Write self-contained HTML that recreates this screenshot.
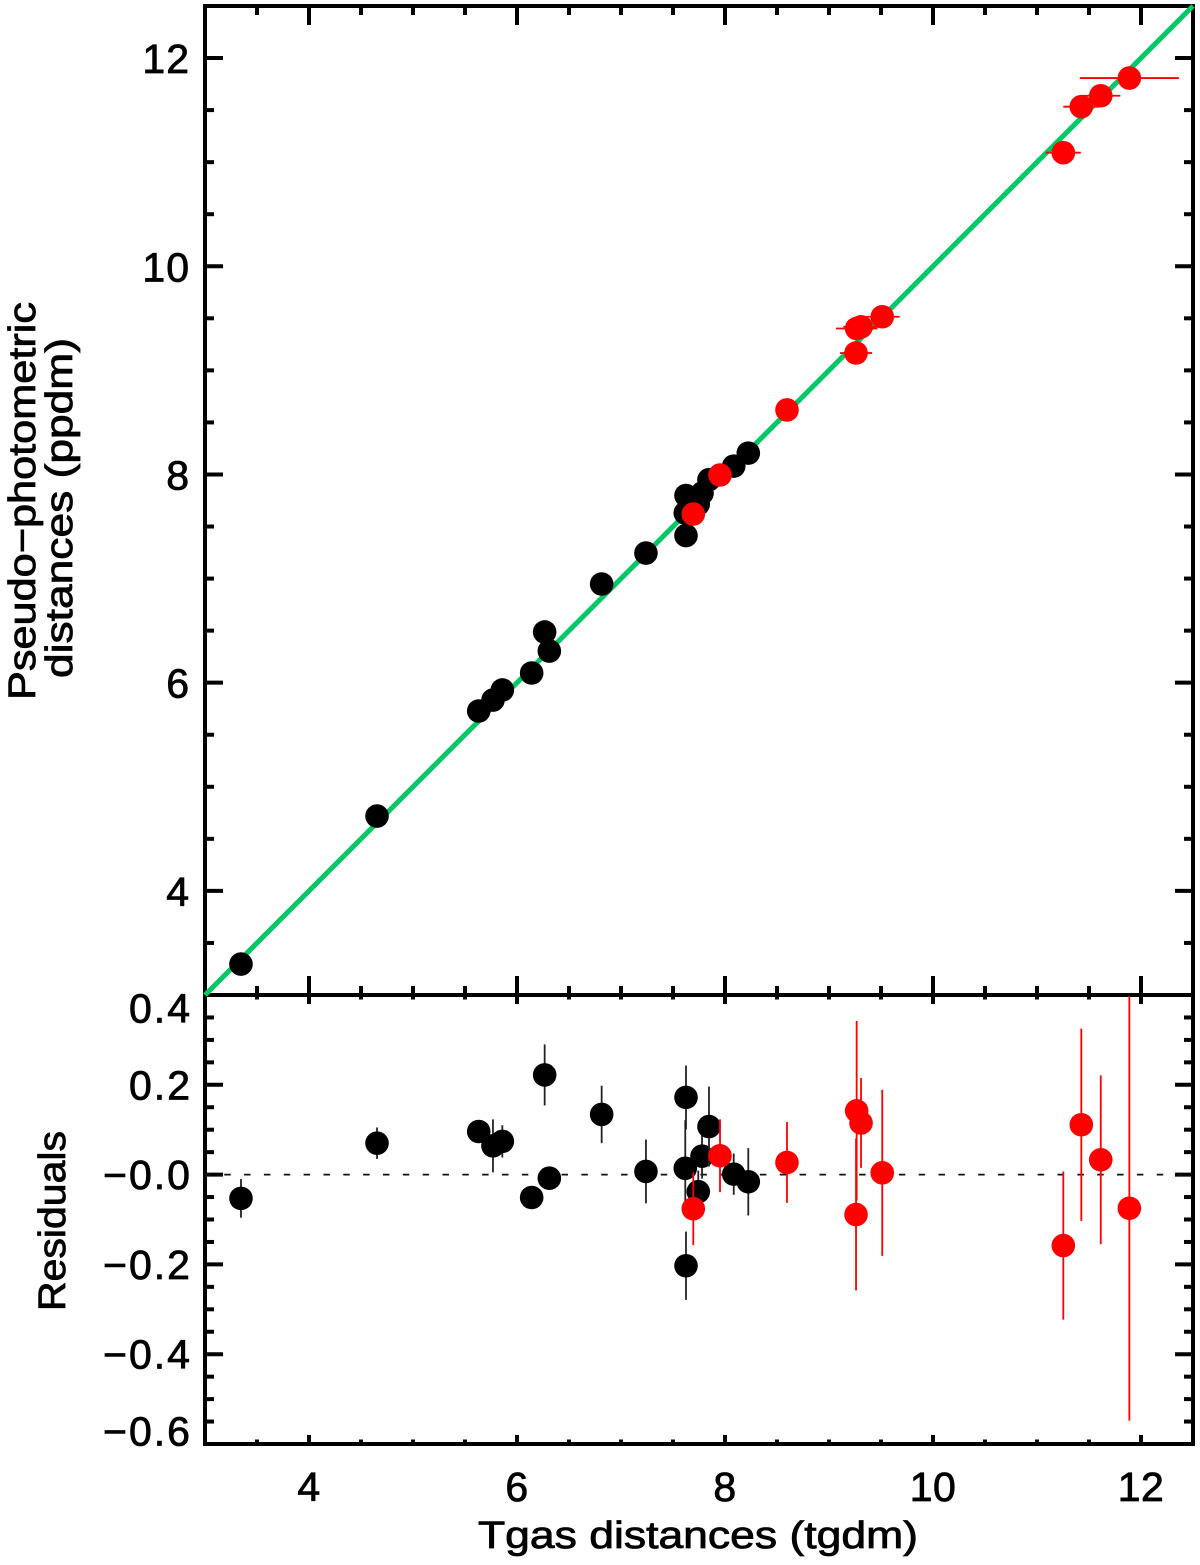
<!DOCTYPE html>
<html lang="en">
<head>
<meta charset="utf-8">
<title>Tgas vs pseudo-photometric distances</title>
<style>
html,body{margin:0;padding:0;background:#fff;}
svg{display:block;}
text{font-family:"Liberation Sans",sans-serif;fill:#000;stroke:#000;stroke-width:0.8px;}
</style>
</head>
<body>
<svg id="chart" xmlns="http://www.w3.org/2000/svg" width="1200" height="1565" viewBox="0 0 1200 1565">
  <rect width="1200" height="1565" fill="#fff"/>
  <g id="axes-layer"></g>
  <g id="marks-layer"></g>
  <text x="478" y="1548" font-size="38" textLength="440" lengthAdjust="spacingAndGlyphs">Tgas distances (tgdm)</text>
  <text transform="translate(35,700) rotate(-90)" font-size="38" textLength="398" lengthAdjust="spacingAndGlyphs">Pseudo−photometric</text>
  <text transform="translate(72,678) rotate(-90)" font-size="38" textLength="340" lengthAdjust="spacingAndGlyphs">distances (ppdm)</text>
  <text transform="translate(65,1311) rotate(-90)" font-size="38" textLength="180" lengthAdjust="spacingAndGlyphs">Residuals</text>
</svg>
<script>
// ---- data ----
const blackTgdm = [3.346,4.654,5.632,5.769,5.859,6.141,6.266,6.311,6.814,7.240,7.625,7.618,7.625,7.743,7.779,7.846,8.084,8.224];
const blackPpdm = [3.297,4.719,5.728,5.833,5.930,6.093,6.487,6.304,6.948,7.245,7.413,7.630,7.798,7.715,7.820,7.950,8.080,8.205];
const blackResidual = [-0.053,0.070,0.096,0.064,0.074,-0.051,0.222,-0.008,0.134,0.007,-0.203,0.014,0.172,-0.038,0.041,0.107,0.001,-0.016];
const blackResidualErr = [0.043,0.035,0.020,0.059,0.036,0.020,0.068,0.020,0.064,0.071,0.076,0.107,0.071,0.047,0.050,0.089,0.046,0.075];
const redTgdm = [7.695,7.952,8.596,9.260,9.266,9.308,9.512,11.253,11.426,11.613,11.888];
const redPpdm = [7.620,7.995,8.620,9.167,9.402,9.418,9.515,11.091,11.533,11.638,11.808];
const redResidual = [-0.076,0.042,0.027,-0.089,0.142,0.115,0.004,-0.158,0.111,0.033,-0.075];
const redResidualErr = [0.081,0.081,0.090,0.169,0.200,0.100,0.185,0.165,0.214,0.188,0.473];
const redTgdmErr = [0.080,0.080,0.090,0.155,0.200,0.170,0.168,0.168,0.173,0.188,0.476];
const xTickLabels = ['4','6','8','10','12'];
const yTickLabels = ['4','6','8','10','12'];
const residualTickLabels = ['0.4','0.2','−0.0','−0.2','−0.4','−0.6'];
const xDomain = [3, 12.5];
const yDomain = [3, 12.5];
const residualDomain = [-0.6, 0.4];

// ---- axis functions ----
const LEFT = 205, RIGHT = 1193, TOP = 6, MID = 995, BOTTOM = 1444;
function xScale(v){ return LEFT + (v - xDomain[0]) / (xDomain[1] - xDomain[0]) * (RIGHT - LEFT); }
function yScale(v){ return MID - (v - yDomain[0]) / (yDomain[1] - yDomain[0]) * (MID - TOP); }
function rScale(v){ return BOTTOM - (v - residualDomain[0]) / (residualDomain[1] - residualDomain[0]) * (BOTTOM - MID); }
function parseLabel(s){ return parseFloat(s.replace('−','-')); }

const NS = 'http://www.w3.org/2000/svg';
const axesLayer = document.getElementById('axes-layer');
const marksLayer = document.getElementById('marks-layer');
function mk(tag, attrs, parent){
  const el = document.createElementNS(NS, tag);
  for (const k in attrs) el.setAttribute(k, attrs[k]);
  parent.appendChild(el);
  return el;
}
function tickLine(x1,y1,x2,y2,name){
  const el = mk('line',{x1:x1,y1:y1,x2:x2,y2:y2,stroke:'#000','stroke-width':4},axesLayer);
  
  
}
function tickText(x,y,str,anchor,name,spacing){
  const el = mk('text',{x:x,y:y,'text-anchor':anchor,'font-size':41,'letter-spacing':spacing},axesLayer);
  el.textContent = str;
  
  
}

// ---- x ticks (minor every 0.5, major every 2) ----
for (let v = xDomain[0] + 0.5; v < xDomain[1]; v += 0.5) {
  const px = xScale(v);
  const major = v % 2 === 0;
  tickLine(px, TOP, px, TOP + (major ? 19 : 9), 'top-panel-top-x-tick');
  tickLine(px, MID, px, MID - (major ? 19 : 9), 'top-panel-bottom-x-tick');
  tickLine(px, MID, px, MID + (major ? 9 : 4.5), 'residual-panel-top-x-tick');
  tickLine(px, BOTTOM, px, BOTTOM - (major ? 9 : 4.5), 'residual-panel-bottom-x-tick');
}
xTickLabels.forEach(function(l){
  tickText(xScale(parseLabel(l)), 1501, l, 'middle', 'x-tick-label', 0.5);
});

// ---- top panel y ticks (minor every 0.5) ----
for (let v = yDomain[0] + 0.5; v < yDomain[1]; v += 0.5) {
  const py = yScale(v);
  const len = v % 2 === 0 ? 18 : 9;
  tickLine(LEFT, py, LEFT + len, py, 'top-panel-left-y-tick');
  tickLine(RIGHT, py, RIGHT - len, py, 'top-panel-right-y-tick');
}
yTickLabels.forEach(function(l){
  tickText(190, yScale(parseLabel(l)) + 15, l, 'end', 'y-tick-label', 1);
});

// ---- residual panel y ticks (minor every 0.05) ----
for (let i = 1; i < 20; i++) {
  const v = residualDomain[0] + i * 0.05;
  const py = rScale(v);
  const len = i % 4 === 0 ? 18 : 9;
  tickLine(LEFT, py, LEFT + len, py, 'residual-panel-left-y-tick');
  tickLine(RIGHT, py, RIGHT - len, py, 'residual-panel-right-y-tick');
}
residualTickLabels.forEach(function(l){
  const cy = Math.min(1431, Math.max(1008, rScale(parseLabel(l))));
  tickText(192, cy + 14.5, l, 'end', 'residual-tick-label', 2);
});

// ---- frames ----
const frameTop = mk('rect',{x:LEFT,y:TOP,width:RIGHT-LEFT,height:MID-TOP,fill:'none',stroke:'#000','stroke-width':4},axesLayer);


const frameBottom = mk('rect',{x:LEFT,y:MID,width:RIGHT-LEFT,height:BOTTOM-MID,fill:'none',stroke:'#000','stroke-width':4},axesLayer);



// ---- reference lines ----
const oneToOne = mk('line',{x1:xScale(3),y1:yScale(3),x2:xScale(12.5),y2:yScale(12.5),stroke:'#00c864','stroke-width':5},marksLayer);


const zeroLine = mk('line',{x1:LEFT-0.6,y1:rScale(0),x2:RIGHT,y2:rScale(0),stroke:'#111','stroke-width':1.8,'stroke-dasharray':'6.5 13.34'},marksLayer);



// ---- series ----
function errorBar(x1,y1,x2,y2,color,name){
  const el = mk('line',{x1:x1,y1:y1,x2:x2,y2:y2,stroke:color,'stroke-width':1.8},marksLayer);
  
  
}
function point(x,y,color,name){
  const el = mk('circle',{cx:x,cy:y,r:11.8,fill:color},marksLayer);
  
  
}
function drawSeries(xs,ys,res,resErr,xErr,color,label){
  xs.forEach(function(x,i){
    if (xErr) {
      errorBar(xScale(x - xErr[i]), yScale(ys[i]), xScale(x + xErr[i]), yScale(ys[i]), color, label + '-x-error-bar');
    }
    point(xScale(x), yScale(ys[i]), color, label + '-point');
  });
  xs.forEach(function(x,i){
    const hi = Math.min(res[i] + resErr[i], residualDomain[1]);
    const lo = Math.max(res[i] - resErr[i], residualDomain[0]);
    errorBar(xScale(x), rScale(hi), xScale(x), rScale(lo), color === '#000' ? '#222' : color, label + '-residual-error-bar');
    point(xScale(x), rScale(res[i]), color, label + '-residual-point');
  });
}
drawSeries(blackTgdm, blackPpdm, blackResidual, blackResidualErr, null, '#000', 'black-star');
drawSeries(redTgdm, redPpdm, redResidual, redResidualErr, redTgdmErr, '#ff0000', 'red-star');
</script>
</body>
</html>
